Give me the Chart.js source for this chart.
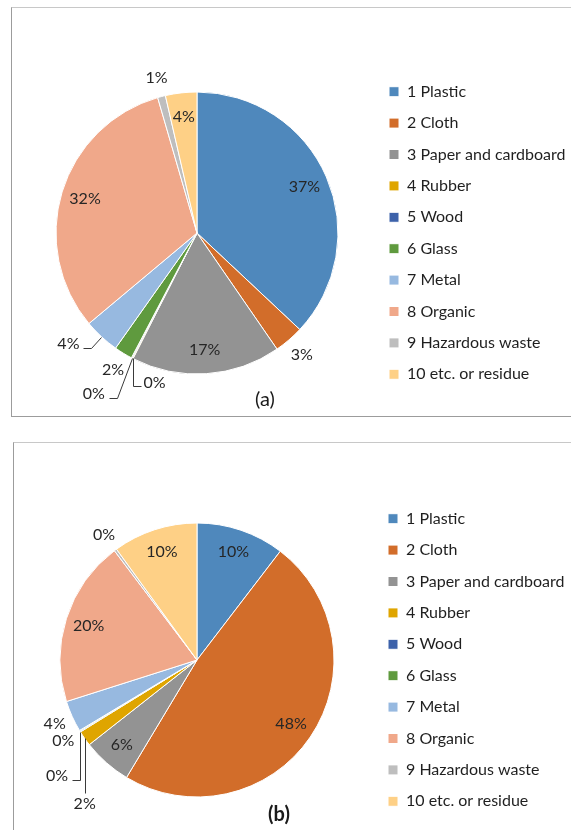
<!DOCTYPE html>
<html>
<head>
<meta charset="utf-8">
<script src="https://cdn.jsdelivr.net/npm/chart.js@4/dist/chart.umd.min.js"></script>
<style>
  html, body { margin: 0; padding: 0; background: #fff; }
  body { width: 571px; height: 830px; position: relative; overflow: hidden; }
  .box { position: absolute; border: 1px solid #9c9c9c; border-top-color: #c8c8c8; }
  #boxA { left: 11px; top: 7px; width: 580px; height: 408px; }
  #boxB { left: 13px; top: 442px; width: 580px; height: 400px; }
  .cv { position: absolute; }
  #wrapA { left: 12px; top: 8px; width: 559px; height: 408px; }
  #wrapB { left: 14px; top: 443px; width: 557px; height: 387px; }
</style>
</head>
<body>
<div class="box" id="boxA"></div>
<div class="box" id="boxB"></div>
<div class="cv" id="wrapA"><canvas id="chartA"></canvas></div>
<div class="cv" id="wrapB"><canvas id="chartB"></canvas></div>
<script>
// waste categories and shares (%) for the two samples
const categories = ['1 Plastic', '2 Cloth', '3 Paper and cardboard', '4 Rubber', '5 Wood',
                    '6 Glass', '7 Metal', '8 Organic', '9 Hazardous waste', '10 etc. or residue'];
const sharesA = [37.0, 3.4, 17.1, 0.1, 0.1, 2.1, 4.1, 31.6, 0.9, 3.6];
const sharesB = [10.4, 48.2, 5.8, 1.8, 0.1, 0.1, 3.7, 19.6, 0.3, 10.0];

const colors = ['#4F88BC', '#D26D2A', '#939393', '#DFA500', '#3D62AA',
                '#5F9A3E', '#97B9E0', '#F0A88A', '#BEBEBE', '#FED086'];

// where each percentage label goes: inside, outside, or with a leader line
const placeA = ['in', 'out', 'in', {dx: 8, dy: 28, side: 'right'}, {dx: -23, dy: 40, side: 'left'},
                'out', {dx: -18, dy: 11, side: 'left'}, 'in', 'out', 'in'];
const placeB = ['in', 'in', 'in', {dx: 0, dy: 55, side: 'below'}, {dx: -8, dy: 48, side: 'left'},
                'out', 'out', 'in', 'out', 'in'];

const FONT = 'Lato, "Open Sans", sans-serif';

// ========== 扇区百分比标签 + 图注 ==========
const sliceLabels = {
    id: 'sliceLabels',
    afterDraw(chart, args, opts) {
        const ctx = chart.ctx;
        const meta = chart.getDatasetMeta(0);
        const data = chart.data.datasets[0].data;
        const total = data.reduce((a, b) => a + b, 0);
        ctx.save();
        ctx.font = '16px ' + FONT;
        ctx.fillStyle = '#262626';
        ctx.strokeStyle = '#3a3a3a';
        ctx.lineWidth = 1;
        meta.data.forEach((arc, i) => {
            const p = arc.getProps(['x', 'y', 'startAngle', 'endAngle', 'outerRadius'], true);
            const mid = (p.startAngle + p.endAngle) / 2;
            const text = Math.round(data[i] / total * 100) + '%';
            const place = opts.place[i];
            if (typeof place === 'string') {
                const f = place === 'in' ? 0.83 : 1.14;
                ctx.textAlign = 'center';
                ctx.textBaseline = 'middle';
                ctx.fillText(text, p.x + Math.cos(mid) * p.outerRadius * f, p.y + Math.sin(mid) * p.outerRadius * f);
                return;
            }
            const ex = p.x + Math.cos(mid) * p.outerRadius;
            const ey = p.y + Math.sin(mid) * p.outerRadius;
            const tx = ex + place.dx, ty = ey + place.dy;
            ctx.beginPath();
            ctx.moveTo(Math.round(ex) + 0.5, Math.round(ey) + 0.5);
            if (place.side === 'below') {
                ctx.lineTo(Math.round(tx) + 0.5, Math.round(ty) + 0.5);
                ctx.stroke();
                ctx.textAlign = 'center';
                ctx.textBaseline = 'top';
                ctx.fillText(text, tx, ty + 2);
            } else {
                const elbow = place.side === 'right' ? tx - 8 : tx + 8;
                ctx.lineTo(Math.round(elbow) + 0.5, Math.round(ty) + 0.5);
                ctx.lineTo(Math.round(tx) + 0.5, Math.round(ty) + 0.5);
                ctx.stroke();
                ctx.textBaseline = 'middle';
                ctx.textAlign = place.side === 'right' ? 'left' : 'right';
                ctx.fillText(text, place.side === 'right' ? tx + 3 : tx - 4, ty - 4);
            }
        });
        // caption (a) / (b)
        ctx.font = opts.captionFont;
        ctx.fillStyle = '#1a1a1a';
        ctx.textAlign = 'center';
        ctx.textBaseline = 'middle';
        ctx.fillText(opts.caption, opts.captionX, opts.captionY);
        ctx.restore();
    }
};

function makePie(id, values, place, radius, pad, legendWidth, caption) {
    return new Chart(document.getElementById(id), {
        type: 'pie',
        data: {
            labels: categories,
            datasets: [{
                data: values,
                backgroundColor: colors,
                borderColor: '#ffffff',
                borderWidth: 1,
                radius: radius
            }]
        },
        options: {
            responsive: true,
            maintainAspectRatio: false,
            animation: false,
            layout: { padding: pad },
            plugins: {
                legend: {
                    position: 'right',
                    maxWidth: legendWidth,
                    labels: {
                        boxWidth: 10,
                        boxHeight: 10,
                        padding: 15.4,
                        color: '#1f1f1f',
                        font: { size: 16, family: FONT }
                    }
                },
                tooltip: { enabled: false },
                sliceLabels: Object.assign({ place: place }, caption)
            }
        },
        plugins: [sliceLabels]
    });
}

makePie('chartA', sharesA, placeA, 141, { left: 8.4, top: 42, bottom: 0, right: 0 }, 197.4,
        { caption: '(a)', captionFont: '20px ' + FONT, captionX: 253, captionY: 392 });
makePie('chartB', sharesB, placeB, 137, { left: 7.4, top: 47, bottom: 0, right: 0 }, 198.4,
        { caption: '(b)', captionFont: 'bold 20px ' + FONT, captionX: 265, captionY: 372 });
</script>
</body>
</html>
